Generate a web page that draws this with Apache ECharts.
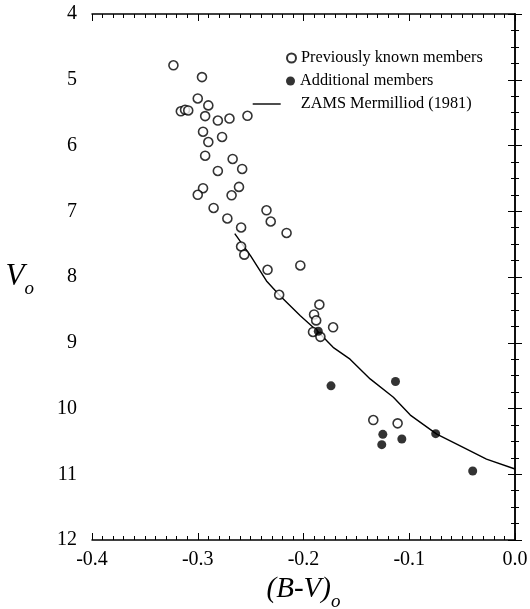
<!DOCTYPE html>
<html>
<head>
<meta charset="utf-8">
<script src="https://cdn.jsdelivr.net/npm/echarts@6/dist/echarts.min.js"></script>
<style>
html,body{margin:0;padding:0;background:#fff;}
#chart{width:530px;height:609px;}
</style>
</head>
<body>
<div id="chart"></div>
<script>
// Previously known members (open circles): (B-V)o and Vo
const prevBV = [-0.323,-0.296,-0.300,-0.290,-0.316,-0.312,-0.309,-0.293,-0.281,-0.270,-0.253,-0.295,-0.277,-0.290,-0.293,-0.267,-0.281,-0.258,-0.295,-0.300,-0.261,-0.268,-0.285,-0.272,-0.235,-0.231,-0.259,-0.216,-0.259,-0.256,-0.234,-0.203,-0.223,-0.185,-0.190,-0.188,-0.172,-0.191,-0.184,-0.134,-0.111];
const prevV  = [4.78,4.96,5.285,5.39,5.48,5.457,5.467,5.553,5.62,5.59,5.548,5.79,5.87,5.947,6.155,6.205,6.387,6.357,6.65,6.75,6.63,6.757,6.95,7.11,6.985,7.156,7.247,7.33,7.536,7.66,7.89,7.824,8.27,8.42,8.57,8.66,8.765,8.836,8.91,10.176,10.226];
// Additional members (filled circles)
const addBV = [-0.186,-0.174,-0.113,-0.125,-0.126,-0.107,-0.075,-0.040];
const addV  = [8.825,9.655,9.59,10.393,10.55,10.464,10.383,10.95];
// ZAMS Mermilliod (1981)
const zamsBV = [-0.265,-0.250,-0.235,-0.222,-0.203,-0.187,-0.172,-0.156,-0.137,-0.115,-0.099,-0.074,-0.049,-0.027,0.0];
const zamsV  = [7.34,7.68,8.06,8.29,8.59,8.82,9.07,9.25,9.55,9.83,10.10,10.39,10.59,10.77,10.92];
// Axis ticks
const xTicks = {min:-0.4, max:0.0, step:0.1};
const yTicks = {min:4, max:12, step:1};

const names = ['Previously known members','Additional members','ZAMS Mermilliod (1981)'];
const zip = (a,b)=>a.map((v,i)=>[v,b[i]]);
const serif = 'Liberation Serif';

const axisLine = {show:true, lineStyle:{color:'#000', width:1.5}};
const tick = {show:true, inside:true, length:7, lineStyle:{color:'#000', width:1}};
const minor = (n)=>({show:true, splitNumber:n, length:4, lineStyle:{color:'#000', width:1}});
const legText = {fontFamily:serif, fontSize:16.3, color:'#000'};

const chart = echarts.init(document.getElementById('chart'));
chart.setOption({
  backgroundColor:'#fff',
  animation:false,
  grid:{left:92, right:15, top:14, bottom:69, containLabel:false, outerBoundsMode:'none'},
  legend:[
    {data:[names[0]], left:281, top:45, icon:'circle', itemWidth:9, itemHeight:9, textStyle:legText},
    {data:[names[1]], left:281, top:68, icon:'circle', itemWidth:9, itemHeight:9, textStyle:legText},
    {data:[names[2]], left:247, top:91, itemWidth:28, itemHeight:9,
     itemStyle:{opacity:0}, lineStyle:{color:'#000', width:1.4},
     textStyle:Object.assign({}, legText, {padding:[0,0,0,15]})}
  ],
  xAxis:[
    {type:'value', min:xTicks.min, max:xTicks.max, interval:xTicks.step, position:'bottom',
     axisLine:axisLine, axisTick:tick, minorTick:minor(10), splitLine:{show:false},
     axisLabel:{fontFamily:serif, fontSize:20, color:'#000', margin:10, formatter:v=>v.toFixed(1)},
     name:'{m|(B-V)}{s|o}', nameLocation:'middle', nameGap:34,
     nameTextStyle:{rich:{
       m:{fontFamily:serif, fontStyle:'italic', fontSize:29, color:'#000', lineHeight:32, verticalAlign:'top'},
       s:{fontFamily:serif, fontStyle:'italic', fontSize:19, color:'#000', lineHeight:18, padding:[18,0,0,0], verticalAlign:'top'}
     }}},
    {type:'value', min:xTicks.min, max:xTicks.max, interval:xTicks.step, position:'top',
     axisLine:axisLine, axisTick:tick, minorTick:minor(10), splitLine:{show:false}, axisLabel:{show:false}}
  ],
  yAxis:[
    {type:'value', min:yTicks.min, max:yTicks.max, interval:yTicks.step, inverse:true, position:'left',
     axisLine:axisLine, axisTick:tick, minorTick:minor(4), splitLine:{show:false},
     axisLabel:{fontFamily:serif, fontSize:20, color:'#000', margin:15},
     name:'{m|V}{s|o}', nameLocation:'middle', nameGap:58, nameRotate:0,
     nameTextStyle:{rich:{
       m:{fontFamily:serif, fontStyle:'italic', fontSize:31, color:'#000', lineHeight:32, verticalAlign:'top'},
       s:{fontFamily:serif, fontStyle:'italic', fontSize:19, color:'#000', lineHeight:18, padding:[18,0,0,0], verticalAlign:'top'}
     }}},
    {type:'value', min:yTicks.min, max:yTicks.max, interval:yTicks.step, inverse:true, position:'right',
     axisLine:axisLine, axisTick:tick, minorTick:minor(4), splitLine:{show:false}, axisLabel:{show:false}}
  ],
  series:[
    {name:names[0], type:'scatter', data:zip(prevBV,prevV), symbol:'circle', symbolSize:9,
     itemStyle:{color:'#fff', borderColor:'#000', borderWidth:1.6}, z:3},
    {name:names[1], type:'scatter', data:zip(addBV,addV), symbol:'circle', symbolSize:9,
     itemStyle:{color:'#000', borderColor:'#000', borderWidth:0}, z:4},
    {name:names[2], type:'line', data:zip(zamsBV,zamsV), showSymbol:false, symbol:'none',
     lineStyle:{color:'#000', width:1.4}, itemStyle:{color:'#000'}, z:2}
  ]
});
</script>
</body>
</html>
